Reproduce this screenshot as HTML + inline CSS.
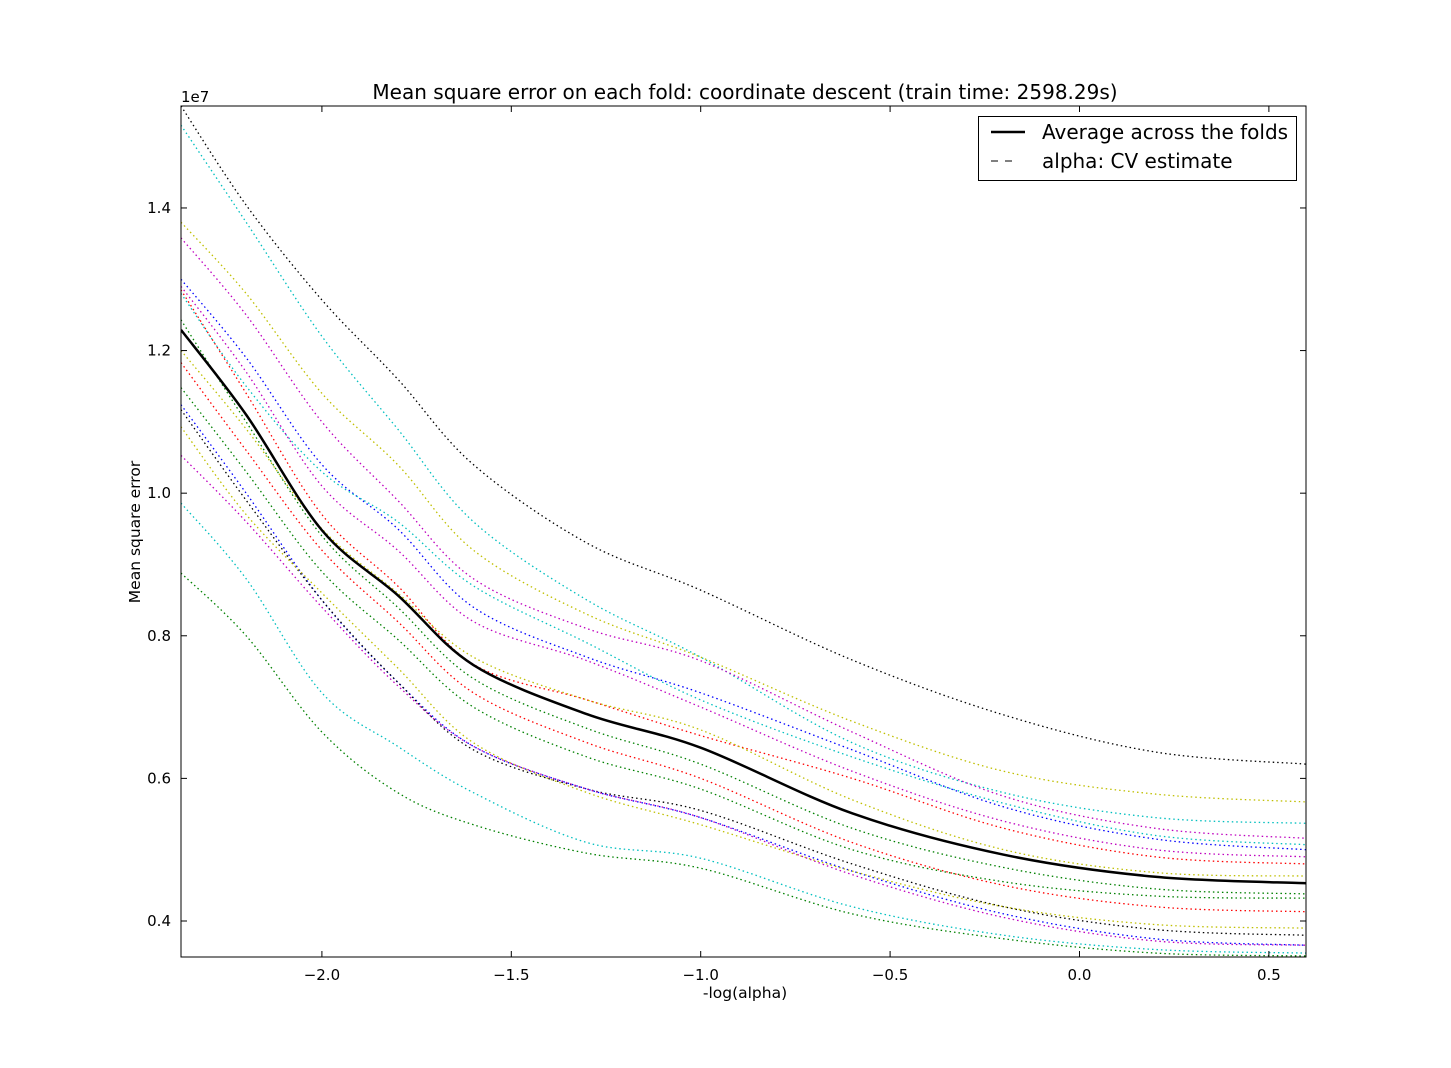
<!DOCTYPE html>
<html><head><meta charset="utf-8"><style>
body{margin:0;background:#fff;}
svg text{font-family:"DejaVu Sans","Liberation Sans",sans-serif;}
</style></head><body>
<svg id="chart" width="1451" height="1063" xmlns="http://www.w3.org/2000/svg">
<defs><clipPath id="clip"><rect x="181" y="106" width="1125" height="851"/></clipPath></defs>
<rect width="1451" height="1063" fill="#fff"/>
<text x="745" y="99" font-size="20" text-anchor="middle">Mean square error on each fold: coordinate descent (train time: 2598.29s)</text>
<text x="181" y="102" font-size="15">1e7</text>
<text x="745" y="998" font-size="15.5" text-anchor="middle">-log(alpha)</text>
<text x="140" y="532" font-size="15.5" text-anchor="middle" transform="rotate(-90 140 532)">Mean square error</text>
<g id="series" clip-path="url(#clip)"></g>
<g id="axes"></g>
<rect x="181" y="106" width="1125" height="851" fill="none" stroke="#000" stroke-width="1"/>
<g>
<rect x="978.5" y="116.5" width="318" height="64" fill="#fff" stroke="#000"/>
<line x1="991" y1="132" x2="1025" y2="132" stroke="#000" stroke-width="2.5"/>
<text x="1042" y="139" font-size="20">Average across the folds</text>
<line x1="991" y1="161" x2="1019" y2="161" stroke="#000" stroke-width="1" stroke-dasharray="7,7"/>
<text x="1042" y="168" font-size="20">alpha: CV estimate</text>
</g>
</svg>
<script>
const xs = [-2.372,-2.2,-2.0,-1.8,-1.6,-1.3,-1.0,-0.6,-0.2,0.2,0.598];
const xTicks = [-2.0,-1.5,-1.0,-0.5,0.0,0.5];
const xTickLabels = ["\u22122.0","\u22121.5","\u22121.0","\u22120.5","0.0","0.5"];
const yTicks = [0.4,0.6,0.8,1.0,1.2,1.4];
const yTickLabels = ["0.4","0.6","0.8","1.0","1.2","1.4"];
const avgSeries = [1.229,1.11,0.948,0.857,0.759,0.69,0.643,0.551,0.493,0.462,0.453];
const foldBlackA = [1.543,1.404,1.271,1.16,1.04,0.93,0.864,0.766,0.689,0.637,0.620];
const foldCyanA = [1.516,1.38,1.22,1.09,0.96,0.85,0.77,0.65,0.58,0.545,0.537];
const foldYellowA = [1.38,1.28,1.14,1.04,0.92,0.83,0.77,0.68,0.61,0.578,0.567];
const foldMagentaA = [1.358,1.25,1.10,0.99,0.88,0.81,0.765,0.665,0.575,0.53,0.516];
const foldBlueA = [1.30,1.19,1.04,0.95,0.84,0.77,0.72,0.64,0.56,0.515,0.500];
const foldCyanB = [1.28,1.15,1.03,0.96,0.87,0.79,0.71,0.63,0.565,0.52,0.507];
const foldRedA = [1.285,1.14,0.97,0.87,0.76,0.71,0.66,0.60,0.53,0.49,0.480];
const foldMagentaB = [1.29,1.17,1.01,0.92,0.82,0.765,0.70,0.61,0.54,0.50,0.490];
const foldYellowB = [1.20,1.09,0.95,0.86,0.77,0.71,0.668,0.57,0.50,0.468,0.463];
const foldGreenA = [1.243,1.10,0.94,0.84,0.74,0.67,0.62,0.53,0.475,0.445,0.438];
const foldRedB = [1.183,1.06,0.92,0.82,0.72,0.65,0.60,0.51,0.45,0.42,0.413];
const foldGreenB = [1.148,1.03,0.89,0.795,0.70,0.63,0.585,0.50,0.455,0.435,0.432];
const foldBlueB = [1.124,1.00,0.85,0.735,0.645,0.585,0.545,0.47,0.41,0.375,0.366];
const foldBlackB = [1.117,0.99,0.85,0.735,0.64,0.585,0.555,0.48,0.42,0.388,0.380];
const foldYellowC = [1.093,0.97,0.86,0.755,0.65,0.58,0.535,0.47,0.42,0.395,0.390];
const foldMagentaC = [1.053,0.96,0.84,0.73,0.645,0.585,0.545,0.465,0.405,0.372,0.366];
const foldCyanC = [0.986,0.88,0.72,0.645,0.58,0.51,0.488,0.42,0.38,0.36,0.355];
const foldGreenC = [0.888,0.80,0.665,0.58,0.535,0.495,0.474,0.41,0.375,0.355,0.351];

const folds = [
 ['fold-black-a',foldBlackA,'#000000'],['fold-cyan-a',foldCyanA,'#00bfbf'],
 ['fold-yellow-a',foldYellowA,'#bfbf00'],['fold-magenta-a',foldMagentaA,'#bf00bf'],
 ['fold-blue-a',foldBlueA,'#0000ff'],['fold-cyan-b',foldCyanB,'#00bfbf'],
 ['fold-red-a',foldRedA,'#ff0000'],['fold-magenta-b',foldMagentaB,'#bf00bf'],
 ['fold-yellow-b',foldYellowB,'#bfbf00'],['fold-green-a',foldGreenA,'#008000'],
 ['fold-red-b',foldRedB,'#ff0000'],['fold-green-b',foldGreenB,'#008000'],
 ['fold-blue-b',foldBlueB,'#0000ff'],['fold-black-b',foldBlackB,'#000000'],
 ['fold-yellow-c',foldYellowC,'#bfbf00'],['fold-magenta-c',foldMagentaC,'#bf00bf'],
 ['fold-cyan-c',foldCyanC,'#00bfbf'],['fold-green-c',foldGreenC,'#008000']
];
const X0=181,X1=1306,Y0=957,Y1=106, XMIN=-2.372,XMAX=0.598,YMIN=0.3495,YMAX=1.543;
const sx=v=>X0+(v-XMIN)/(XMAX-XMIN)*(X1-X0);
const sy=v=>Y0-(v-YMIN)/(YMAX-YMIN)*(Y0-Y1);
const NS='http://www.w3.org/2000/svg';
function pathFor(vals){
  const p=vals.map((v,i)=>[sx(xs[i]),sy(v)]);
  let d='M'+p[0][0]+','+p[0][1];
  for(let i=0;i<p.length-1;i++){
    const a=p[i-1]||p[i],b=p[i],c=p[i+1],e=p[i+2]||c;
    const c1=[b[0]+(c[0]-a[0])/6,b[1]+(c[1]-a[1])/6];
    const c2=[c[0]-(e[0]-b[0])/6,c[1]-(e[1]-b[1])/6];
    d+=' C'+c1[0]+','+c1[1]+' '+c2[0]+','+c2[1]+' '+c[0]+','+c[1];
  }
  return d;
}
const g=document.getElementById('series');
folds.forEach(f=>{
  const el=document.createElementNS(NS,'path');
  el.setAttribute('d',pathFor(f[1]));
  el.setAttribute('fill','none');el.setAttribute('stroke',f[2]);
  el.setAttribute('stroke-width','1.3');el.setAttribute('stroke-dasharray','1.5,3');
  
  
  g.appendChild(el);
});
const avg=document.createElementNS(NS,'path');
avg.setAttribute('d',pathFor(avgSeries));
avg.setAttribute('fill','none');avg.setAttribute('stroke','#000');avg.setAttribute('stroke-width','2.5');


g.appendChild(avg);
const ax=document.getElementById('axes');
function add(tag,attrs,txt){const e=document.createElementNS(NS,tag);for(const k in attrs)e.setAttribute(k,attrs[k]);if(txt)e.textContent=txt;ax.appendChild(e);return e;}
xTicks.forEach((t,i)=>{
  const x=sx(t);
  const a=add('line',{x1:x,x2:x,y1:Y0,y2:Y0-6,stroke:'#000'});
  
  
  const b=add('line',{x1:x,x2:x,y1:Y1,y2:Y1+6,stroke:'#000'});
  
  
  const l=add('text',{x:x,y:Y0+23,'font-size':15,'text-anchor':'middle'},xTickLabels[i]);
  
  
});
yTicks.forEach((t,i)=>{
  const y=sy(t);
  const a=add('line',{x1:X0,x2:X0+6,y1:y,y2:y,stroke:'#000'});
  
  
  const b=add('line',{x1:X1,x2:X1-6,y1:y,y2:y,stroke:'#000'});
  
  
  const l=add('text',{x:X0-10,y:y+5,'font-size':15,'text-anchor':'end'},yTickLabels[i]);
  
  
});
</script>
</body></html>
